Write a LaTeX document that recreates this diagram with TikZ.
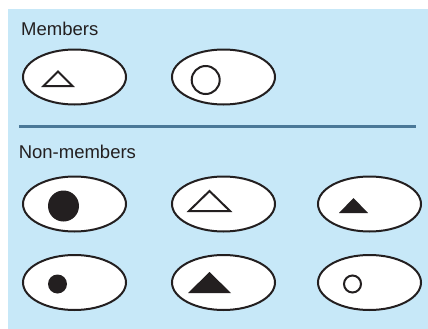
\documentclass[tikz,border=0pt]{standalone}
\usepackage{fontspec}
\setmainfont{Liberation Sans}
\usepackage{xcolor}
\usetikzlibrary{shapes.geometric}
\definecolor{panel}{HTML}{C7E8F8}
\definecolor{rule}{HTML}{4A7898}
\definecolor{ink}{HTML}{231F20}

\begin{document}
\begin{tikzpicture}[x=1bp,y=-1bp,
  oval/.style={ellipse,draw=ink,line width=2bp,fill=white,minimum width=103bp,minimum height=55bp,inner sep=0pt},
  heading/.style={anchor=base west,inner sep=0pt,text=ink,font=\fontsize{18.5bp}{22bp}\selectfont},
  glyph/.style={line width=2bp,draw=ink}]
\useasboundingbox (0,0) rectangle (428,329);
\fill[panel] (8,9) rectangle (428,329);
\node[heading] (mem) at (21,35) {Members};
\node[heading] (non) at (18.6,158.3) {Non-members};
\coordinate (ruleL) at (19.3,126.3);
\coordinate (ruleR) at (415.7,126.3);
\draw[rule,line width=2.5bp] (ruleL)--(ruleR);
\foreach \nm/\cx/\cy in {m1/74.5/77,m2/223.5/77,n1/74.5/204,n2/223.5/204,n3/369.5/204,n4/74.5/282.5,n5/223.5/282.5,n6/369.5/282.5}{
  \node[oval] (\nm) at (\cx,\cy) {};}
% members
\draw[glyph,fill=white] (43.5,86)--(72.5,86)--(58,71.5)--cycle;
\draw[glyph,fill=white] (205.7,80) circle (14);
% non-members
\fill[ink] (63.5,206) circle (15.5);
\draw[glyph,fill=white] (189,211)--(230,211)--(209.5,191)--cycle;
\fill[ink] (339,213)--(368,213)--(353.5,198)--cycle;
\fill[ink] (57.5,284) circle (9.5);
\fill[ink] (188,293)--(231,293)--(209.5,272)--cycle;
\draw[glyph,fill=white] (352.5,284) circle (8.5);
\end{tikzpicture}
\end{document}
